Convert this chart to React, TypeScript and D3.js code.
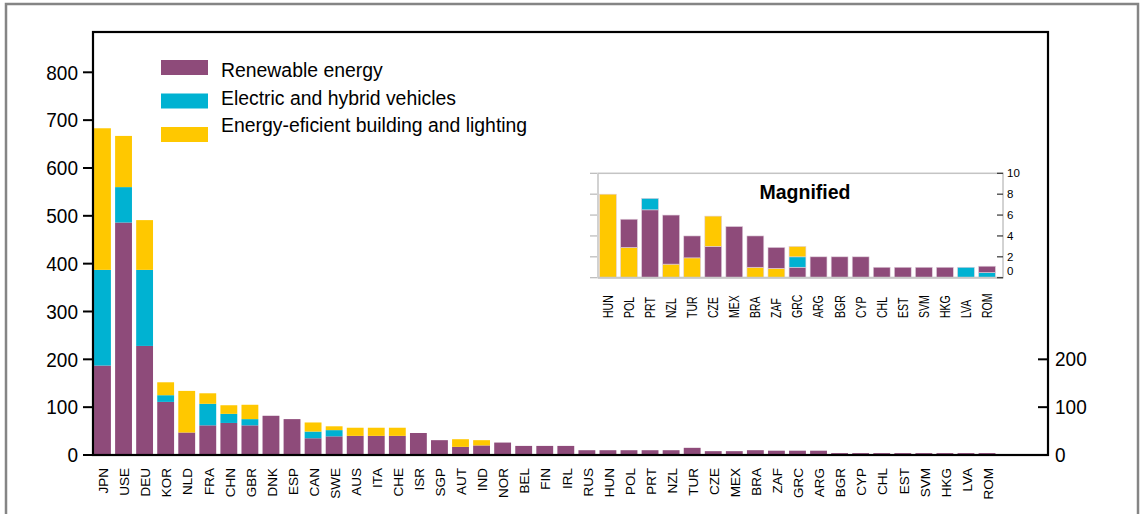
import React from "react";
import * as d3 from "d3";

// main chart
const countries = [
  "JPN", "USE", "DEU", "KOR", "NLD", "FRA", "CHN", "GBR", "DNK", "ESP", "CAN",
  "SWE", "AUS", "ITA", "CHE", "ISR", "SGP", "AUT", "IND", "NOR", "BEL", "FIN",
  "IRL", "RUS", "HUN", "POL", "PRT", "NZL", "TUR", "CZE", "MEX", "BRA", "ZAF",
  "GRC", "ARG", "BGR", "CYP", "CHL", "EST", "SVM", "HKG", "LVA", "ROM",
];
const renewable = [
  187, 486, 228, 111, 47, 62, 67, 62, 82, 75, 35,
  39, 40, 40, 40, 46, 31, 17, 20, 26, 19, 19,
  19, 10, 10, 10, 10, 10, 15, 8, 8, 10, 9,
  9, 9, 4, 4, 4, 4, 4, 4, 4, 4,
];
const electric = [
  200, 74, 159, 14, 0, 45, 19, 13, 0, 0, 14,
  13, 0, 0, 0, 0, 0, 0, 0, 0, 0, 0,
  0, 0, 0, 0, 0, 0, 0, 0, 0, 0, 0,
  0, 0, 0, 0, 0, 0, 0, 0, 0, 0,
];
const efficient = [
  296, 107, 104, 27, 87, 22, 18, 30, 0, 0, 19,
  8, 17, 17, 17, 0, 0, 16, 11, 0, 0, 0,
  0, 0, 0, 0, 0, 0, 0, 0, 0, 0, 0,
  0, 0, 0, 0, 0, 0, 0, 0, 0, 0,
];
const leftTicks = [0, 100, 200, 300, 400, 500, 600, 700, 800];
const rightTicks = [0, 100, 200];

// magnified inset
const insetCountries = [
  "HUN", "POL", "PRT", "NZL", "TUR", "CZE", "MEX", "BRA", "ZAF", "GRC",
  "ARG", "BGR", "CYP", "CHL", "EST", "SVM", "HKG", "LVA", "ROM",
];
const insetRenewable = [0, 2.7, 6.5, 4.7, 2.1, 3.0, 4.9, 3.0, 2.0, 1.0, 2, 2, 2, 1, 1, 1, 1, 0, 0.6];
const insetElectric = [0, 0, 1.1, 0, 0, 0, 0, 0, 0, 1.0, 0, 0, 0, 0, 0, 0, 0, 1.0, 0.5];
const insetEfficient = [8.0, 2.9, 0, 1.3, 1.9, 2.9, 0, 1.0, 0.9, 1.0, 0, 0, 0, 0, 0, 0, 0, 0, 0];
// which segment sits at the bottom of each inset bar
const insetOrder = [
  "efficient", "efficient", "renewable", "efficient", "efficient", "renewable",
  "renewable", "efficient", "efficient", "renewable", "renewable", "renewable",
  "renewable", "renewable", "renewable", "renewable", "renewable", "electric", "electric",
];
const insetTicks = [0, 2, 4, 6, 8, 10];

const keys = ["renewable", "electric", "efficient"];
const labels = {
  renewable: "Renewable energy",
  electric: "Electric and hybrid vehicles",
  efficient: "Energy-eficient building and lighting",
};
const colors = { renewable: "#8e4b7a", electric: "#00b2d2", efficient: "#ffc800" };

const font = "'Liberation Sans', Arial, sans-serif";

export default function App() {
  const W = 1141, H = 514;
  const left = 93, right = 1048, top = 32, base = 455;

  const x = d3.scaleBand().domain(countries).range([93, 996.5]).paddingInner(0.2).paddingOuter(0.05);
  const y = d3.scaleLinear().domain([0, 800]).range([base, 72.3]);

  const table = countries.map((c, i) => ({
    country: c,
    renewable: renewable[i],
    electric: electric[i],
    efficient: efficient[i],
  }));
  const stacked = d3.stack().keys(keys)(table as any);

  // inset
  const iTop = 173.3, iBottom = 277.7, iLeft = 598, iRight = 1003;
  const yi = d3.scaleLinear().domain([0, 10]).range([iBottom, iTop]);
  const insetSegs = insetCountries.flatMap((c, i) => {
    const vals = { renewable: insetRenewable[i], electric: insetElectric[i], efficient: insetEfficient[i] };
    const first = insetOrder[i];
    const order = [first, ...keys.filter((k) => k !== first)];
    let acc = 0;
    return order
      .filter((k) => vals[k] > 0)
      .map((k) => {
        const seg = { country: c, key: k, y0: acc, y1: acc + vals[k] };
        acc += vals[k];
        return seg;
      });
  });

  return (
    <svg width={W} height={H} style={{ position: "absolute", left: 0, top: 0, fontFamily: font }}>
      <rect x={0} y={0} width={W} height={H} fill="#fff" />
      <rect x={6} y={4} width={1132} height={540} fill="none" stroke="#858585" strokeWidth={2.5} />

      {/* bars */}
      {stacked.map((s) => (
        <g key={s.key} fill={colors[s.key]}>
          {s.map((d, i) =>
            d[1] - d[0] > 0 ? (
              <rect
                key={countries[i]}
                x={x(countries[i])}
                y={y(d[1])}
                width={x.bandwidth()}
                height={y(d[0]) - y(d[1])}
              />
            ) : null
          )}
        </g>
      ))}

      {/* frame */}
      <rect x={left} y={top} width={right - left} height={base - top} fill="none" stroke="#000" strokeWidth={2.2} />

      {/* left axis */}
      {leftTicks.map((t) => (
        <g key={t}>
          <line x1={left - 10} x2={left} y1={y(t)} y2={y(t)} stroke="#000" strokeWidth={2} />
          <text transform={`translate(78,${y(t)}) scale(1,1.1)`} dy="0.35em" textAnchor="end" fontSize={19}>
            {t}
          </text>
        </g>
      ))}
      {/* right axis */}
      {rightTicks.map((t) => (
        <g key={t}>
          <line x1={right - 10} x2={right} y1={y(t)} y2={y(t)} stroke="#000" strokeWidth={2} />
          <text transform={`translate(1055,${y(t)}) scale(1,1.1)`} dy="0.32em" textAnchor="start" fontSize={19}>
            {t}
          </text>
        </g>
      ))}

      {/* category labels */}
      {countries.map((c) => (
        <text
          key={c}
          transform={`translate(${x(c)! + x.bandwidth() / 2 + 1},468) rotate(-90)`}
          dy="0.35em"
          textAnchor="end"
          fontSize={13.5}
        >
          {c}
        </text>
      ))}

      {/* legend */}
      {keys.map((k, i) => (
        <g key={k}>
          <rect x={161} y={60 + i * 33.5} width={47} height={15} fill={colors[k]} />
          <text x={221} y={70.5 + i * 27.5} dy="0.35em" fontSize={19.4}>
            {labels[k]}
          </text>
        </g>
      ))}

      {/* magnified inset */}
      <rect x={iLeft} y={iTop} width={iRight - iLeft} height={iBottom - iTop} fill="#fff" stroke="#c4c4c4" strokeWidth={1.5} />
      {insetSegs.map((s) => (
        <rect
          key={s.country + s.key}
          x={x(s.country)}
          y={yi(s.y1)}
          width={x.bandwidth()}
          height={yi(s.y0) - yi(s.y1)}
          fill={colors[s.key]}
          stroke="#e0cfdc"
          strokeWidth={0.6}
        />
      ))}
      <line x1={iLeft} x2={iRight} y1={iBottom} y2={iBottom} stroke="#c8c8c8" strokeWidth={2} />
      {insetTicks.map((t) => (
        <g key={t}>
          <line x1={iLeft - 8} x2={iLeft - 1} y1={yi(t)} y2={yi(t)} stroke="#b8b8b8" strokeWidth={1.2} />
          <line x1={iRight - 6} x2={iRight} y1={yi(t)} y2={yi(t)} stroke="#333" strokeWidth={1.2} />
          <text x={1007} y={Math.min(yi(t), iBottom - 7)} dy="0.35em" fontSize={11.5}>
            {t}
          </text>
        </g>
      ))}
      <text x={805} y={192} dy="0.35em" textAnchor="middle" fontSize={19.5} fontWeight="bold">
        Magnified
      </text>
      {insetCountries.map((c) => (
        <text
          key={c}
          transform={`translate(${x(c)! + x.bandwidth() / 2},318) rotate(-90) scale(0.75,1)`}
          dy="0.35em"
          textAnchor="start"
          fontSize={14}
        >
          {c}
        </text>
      ))}
    </svg>
  );
}
